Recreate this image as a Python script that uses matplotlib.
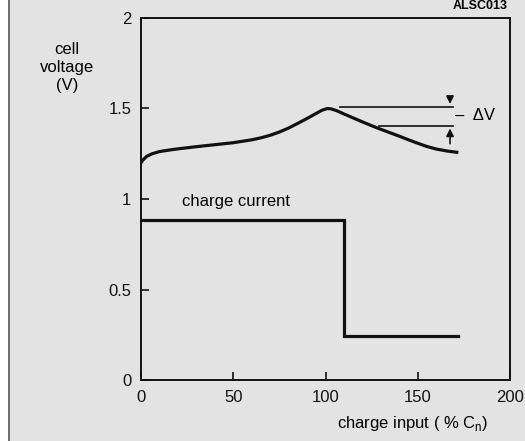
import matplotlib
matplotlib.use('Agg')
import matplotlib.pyplot as plt
from matplotlib.lines import Line2D

plt.rcParams['font.family'] = ['Liberation Sans', 'DejaVu Sans']

# cell voltage curve
charge_in = [0, 1, 3, 6, 10, 15, 20, 30, 40, 50, 60, 65, 70, 75, 80, 85, 90, 95, 98, 101,
             103, 106, 110, 115, 120, 125, 130, 135, 140, 145, 150, 155, 160, 166, 172]
voltage = [1.20, 1.215, 1.235, 1.25, 1.262, 1.27, 1.277, 1.289, 1.30, 1.311, 1.327, 1.338,
           1.352, 1.37, 1.392, 1.418, 1.445, 1.473, 1.49, 1.50, 1.498, 1.488, 1.47, 1.448,
           1.426, 1.405, 1.385, 1.366, 1.347, 1.327, 1.308, 1.29, 1.276, 1.265, 1.257]

# charge current step
current_x = [0, 110, 110, 172]
current_y = [0.885, 0.885, 0.245, 0.245]

# delta V markers
dv_top = 1.51
dv_bottom = 1.405

bg = '#e3e3e3'
fig = plt.figure(figsize=(5.25, 4.41), dpi=100, facecolor=bg)
ax = fig.add_axes([0.2686, 0.1383, 0.7028, 0.8209])
ax.set_facecolor(bg)

ax.plot(charge_in, voltage, color='#111111', lw=2.3, solid_capstyle='butt')
ax.plot(current_x, current_y, color='#111111', lw=2.3, solid_joinstyle='miter')

ax.plot([108, 169], [dv_top, dv_top], color='#111111', lw=1.2)
ax.plot([129, 169], [dv_bottom, dv_bottom], color='#111111', lw=1.2)
ax.annotate('', xy=(167.5, dv_top), xytext=(167.5, 1.58),
            arrowprops=dict(arrowstyle='-|>', color='#111111', lw=1.2, mutation_scale=11))
ax.annotate('', xy=(167.5, dv_bottom), xytext=(167.5, 1.29),
            arrowprops=dict(arrowstyle='-|>', color='#111111', lw=1.2, mutation_scale=11))
ax.text(170, 1.462, '–  ΔV', fontsize=12, va='center', ha='left')

ax.text(22, 0.985, 'charge current', fontsize=12, va='center', ha='left')

ax.set_xlim(0, 200)
ax.set_ylim(0, 2)
ax.set_xticks([0, 50, 100, 150, 200])
ax.set_yticks([0, 0.5, 1, 1.5, 2])
ax.set_yticklabels(['0', '0.5', '1', '1.5', '2'])
ax.tick_params(direction='in', length=6, width=1.2, labelsize=12, pad=7, colors='#111111')
for s in ax.spines.values():
    s.set_linewidth(1.4)
    s.set_color('#111111')

fig.text(0.128, 0.846, 'cell\nvoltage\n(V)', fontsize=12, ha='center', va='center', linespacing=1.25)
fig.text(0.93, 0.039, 'charge input ( % C$_\\mathregular{n}$)', fontsize=12, ha='right', va='center')
fig.text(0.914, 1.0, 'ALSC013', fontsize=9, fontweight='bold', ha='center', va='top')

# white strip and border line on the left of the scan
fig.patches.append(plt.Rectangle((0, 0), 0.016, 1, transform=fig.transFigure, color='white', zorder=0))
fig.lines.append(Line2D([0.017, 0.017], [0, 1], transform=fig.transFigure, color='#555555', lw=1.2))

fig.savefig('out.png', dpi=100, facecolor=bg)
